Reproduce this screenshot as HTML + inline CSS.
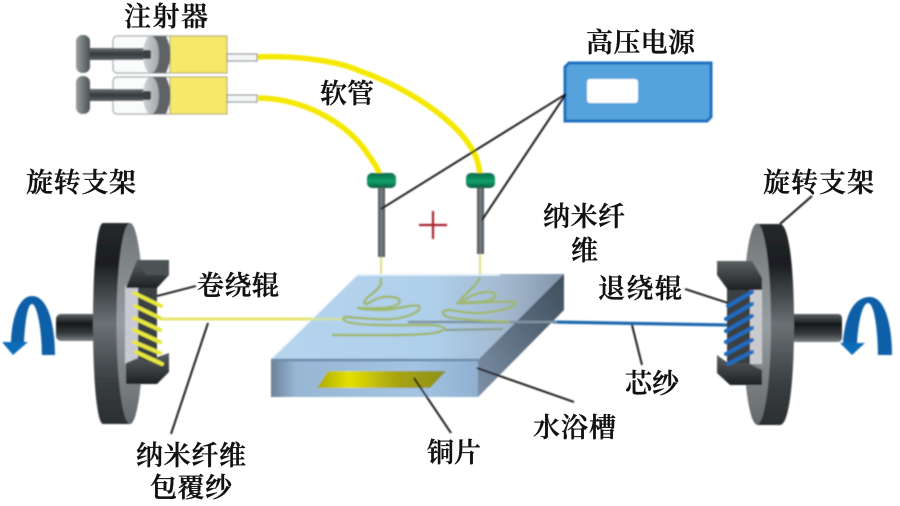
<!DOCTYPE html>
<html><head><meta charset="utf-8">
<style>
html,body{margin:0;padding:0;background:#fff;width:900px;height:506px;overflow:hidden}
svg{display:block}
text{font-family:"Liberation Serif","Noto Serif CJK SC",serif;font-size:27px;fill:#111;font-weight:600;stroke:#111;stroke-width:.35px}
</style></head>
<body>
<svg width="900" height="506" viewBox="0 0 900 506" xmlns="http://www.w3.org/2000/svg">
<defs>
<linearGradient id="rod" x1="0" y1="0" x2="0" y2="1"><stop offset="0" stop-color="#6b7375"/><stop offset=".5" stop-color="#33393b"/><stop offset="1" stop-color="#5d6567"/></linearGradient>
<linearGradient id="head" x1="0" y1="0" x2="1" y2="0"><stop offset="0" stop-color="#9aa0a2"/><stop offset="1" stop-color="#4a5153"/></linearGradient>
<linearGradient id="stop" x1="0" y1="0" x2="1" y2="0"><stop offset="0" stop-color="#d0d3d5"/><stop offset="1" stop-color="#a2a7aa"/></linearGradient>
<linearGradient id="green" x1="0" y1="0" x2="0" y2="1"><stop offset="0" stop-color="#0a6a48"/><stop offset=".55" stop-color="#12a06c"/><stop offset="1" stop-color="#0a5c40"/></linearGradient>
<linearGradient id="needle" x1="0" y1="0" x2="1" y2="0"><stop offset="0" stop-color="#4f5558"/><stop offset=".5" stop-color="#7a8084"/><stop offset="1" stop-color="#4a5053"/></linearGradient>
<linearGradient id="rimL" x1="0" y1="0" x2="0" y2="1"><stop offset="0" stop-color="#25292b"/><stop offset=".2" stop-color="#1a1d1f"/><stop offset=".5" stop-color="#6a7174"/><stop offset=".8" stop-color="#383d40"/><stop offset="1" stop-color="#2a2e30"/></linearGradient>
<linearGradient id="faceL" x1="0" y1="0" x2="0" y2="1"><stop offset="0" stop-color="#6f7477"/><stop offset=".5" stop-color="#989da0"/><stop offset="1" stop-color="#63686b"/></linearGradient>
<linearGradient id="shaft" x1="0" y1="0" x2="0" y2="1"><stop offset="0" stop-color="#5c6264"/><stop offset=".35" stop-color="#16191a"/><stop offset=".7" stop-color="#34393b"/><stop offset="1" stop-color="#7a8284"/></linearGradient>
<linearGradient id="brk" x1="0" y1="0" x2="0" y2="1"><stop offset="0" stop-color="#5a6062"/><stop offset="1" stop-color="#1d2022"/></linearGradient>
<linearGradient id="top" x1="0" y1="0" x2="1" y2="0"><stop offset="0" stop-color="#b6d4ee"/><stop offset=".55" stop-color="#aecfea"/><stop offset=".8" stop-color="#a3b8cf"/><stop offset="1" stop-color="#8294aa"/></linearGradient>
<linearGradient id="front" x1="0" y1="0" x2="1" y2="0"><stop offset="0" stop-color="#6b8199"/><stop offset=".12" stop-color="#96b6d4"/><stop offset=".7" stop-color="#a3c4e2"/><stop offset="1" stop-color="#8fb0d0"/></linearGradient>
<linearGradient id="side" x1="0" y1="1" x2="1" y2="0"><stop offset="0" stop-color="#7d90a6"/><stop offset=".6" stop-color="#566778"/><stop offset="1" stop-color="#3e4e5c"/></linearGradient>
<linearGradient id="cu" x1="0" y1="0" x2="1" y2="0"><stop offset="0" stop-color="#a8a800"/><stop offset=".25" stop-color="#e4e000"/><stop offset=".6" stop-color="#a9a510"/><stop offset="1" stop-color="#8d9018"/></linearGradient>
<g id="syr">
  <rect x="113" y="36" width="60" height="37" rx="4" fill="#fafbfb" stroke="#a4a9a9" stroke-width="1.200"/>
  <rect x="88" y="48" width="62" height="12" fill="url(#rod)"/>
  <rect x="76" y="35" width="14" height="38" rx="6.500" fill="url(#head)"/>
  <rect x="170" y="36" width="57" height="37" fill="#f6e868" stroke="#a8a878" stroke-width="1"/>
  <path d="M150 36H166Q175 54 166 73H150Z" fill="#5f6468"/>
  <ellipse cx="151" cy="54.500" rx="8" ry="18.500" fill="url(#stop)"/>
  <rect x="143" y="50" width="8" height="9" rx="2" fill="#3a4042"/>
  <rect x="227" y="54" width="30" height="7" fill="#f4f5f5" stroke="#777c7f" stroke-width="1"/>
</g>
<filter id="b" x="-5%" y="-5%" width="110%" height="110%"><feGaussianBlur stdDeviation="0.7"/></filter>
</defs>

<g filter="url(#b)">
<!-- tubes -->
<path d="M256 57C300 55 340 62 360 71C400 85 440 110 462 135C474 150 479 160 480 176" fill="none" stroke="#f5e800" stroke-width="5.500"/>
<path d="M258 98C285 98 310 107 327 117C345 127 358 140 365 150C374 163 378 168 380 176" fill="none" stroke="#f5e800" stroke-width="5.500"/>

<!-- syringes -->
<use href="#syr"/>
<use href="#syr" y="41"/>

<!-- needles -->
<rect x="378" y="186" width="7" height="71" fill="url(#needle)"/>
<rect x="477" y="186" width="7" height="68" fill="url(#needle)"/>
<rect x="367" y="173" width="29" height="15" rx="5" fill="url(#green)"/>
<rect x="466" y="173" width="29" height="15" rx="5" fill="url(#green)"/>

<!-- power box -->
<path d="M569 63H711V117L707 121H565V67Z" fill="#55a2dc" stroke="#1f6fc0" stroke-width="3"/>
<rect x="587" y="79" width="51" height="24" rx="3" fill="#fff"/>

<!-- plus -->
<path d="M419 225H447M433 211V239" stroke="#a8222c" stroke-width="2.200"/>

<!-- fibers from needle -->
<path d="M381 257V280" stroke="#d8dc70" stroke-width="1.800"/>
<path d="M480 254V277" stroke="#d8dc70" stroke-width="1.800"/>

<!-- left yarn -->
<path d="M160 319H350" stroke="#e6e66c" stroke-width="3"/>
<!-- right yarn -->
<path d="M553 322L727 325" stroke="#1e68ad" stroke-width="3.200"/>

<!-- bath -->
<path d="M357 274H564V310L478 397H271V360Z" fill="#a9c9e6"/>
<path d="M357 274H564L478 360H271Z" fill="url(#top)"/>
<path d="M271 360H478V397H271Z" fill="url(#front)"/>
<path d="M478 360L564 274V310L478 397Z" fill="url(#side)"/>
<path d="M271 360H478" stroke="#6f8aaa" stroke-width="2.500"/>
<path d="M272 358L357 275H500" fill="none" stroke="#eef6fc" stroke-width="1.400"/>
<path d="M317 388L328 371H446L430 388Z" fill="url(#cu)"/>

<!-- left yarn over bath (faint) -->
<path d="M300 319H345" stroke="#dfe67c" stroke-width="2.500" opacity=".7"/>

<!-- core yarn in bath -->
<path d="M408 322H557" stroke="#7f93a2" stroke-width="2.400"/>
<path d="M445 330L503 329" stroke="#8aa090" stroke-width="2.200"/>

<!-- fibre pattern -->
<g fill="none" stroke="#a0b86a" stroke-width="2.400" stroke-linejoin="round">
<path d="M381 278V284C378 291 369 295 366 299C362 304 365 306 372 301C380 296 390 296 397 298C403 301 398 306 390 307C378 309 365 308 358 308C372 311 385 310 393 309C405 307 415 304 419 306C422 311 412 315 400 318C385 321 365 318 345 317C341 319 345 322 352 323C370 326 400 325 427 325C437 325 446 327 444 329C442 332 435 333 425 334C400 336 360 335 332 335"/>
<path d="M480 277C478 283 470 290 464 296C458 302 458 305 466 299C475 293 488 290 494 293C500 298 488 302 477 302C468 303 460 303 457 303C475 304 500 300 516 302C518 306 505 310 490 312C475 315 458 311 450 310C442 310 440 314 448 317C460 320 490 321 510 322"/>
</g>

<!-- left wheel -->
<rect x="56" y="314" width="42" height="27" rx="5" fill="url(#shaft)"/>
<path d="M103 223H130V424H103C97 424 93 380 93 323C93 267 97 223 103 223Z" fill="url(#rimL)"/>
<ellipse cx="130" cy="323.500" rx="13.500" ry="100.500" fill="url(#faceL)"/>
<rect x="125" y="286" width="18" height="78" fill="#c8c9d2"/>
<rect x="138" y="284" width="19" height="80" fill="#3a4042"/>
<path d="M126 288L137 260H169V275L157 288Z" fill="url(#brk)"/>
<path d="M137 260H169V275H146Z" fill="#4c5254"/>
<path d="M126 363L138 358L146 361L169 353V372L157 384H126Z" fill="url(#brk)"/>
<g fill="none" stroke="#e6e83c" stroke-width="4" stroke-linecap="round">
<path d="M134 293L161 306M135 306L160 318M134 318L160 330M134 330L160 342M134 342L160 353M136 352L162 364"/>
</g>
<path d="M157 296H158" stroke="#000"/>

<!-- left arrow -->
<path d="M42 355H55C55 325 48 296 32 296C20 296 12 315 11 342H24C25 325 27 304 32 304C37 304 42 330 42 355Z" fill="#0a5fa8"/>
<path d="M2 342H28L13 355Z" fill="#0a6cb8"/>

<!-- right wheel -->
<rect x="790" y="314" width="52" height="28" rx="4" fill="url(#shaft)"/>
<path d="M757 224H780C789 224 794 268 794 324C794 382 789 425 780 425H757Z" fill="url(#rimL)"/>
<ellipse cx="757" cy="324" rx="14" ry="100.500" fill="url(#faceL)"/>
<rect x="745" y="288" width="17" height="76" fill="#c8cad0"/>
<rect x="727" y="288" width="23" height="76" fill="#3a4042"/>
<path d="M717 261H752L762 278V290H728L717 275Z" fill="url(#brk)"/>
<path d="M717 355L728 363H748L762 370V385H730L717 373Z" fill="url(#brk)"/>
<g fill="none" stroke="#1f6cc0" stroke-width="4" stroke-linecap="round">
<path d="M728 306L752 292M726 319L752 304M726 331L752 316M726 342L752 328M726 354L752 340M728 364L752 352"/>
</g>

<!-- right arrow -->
<path d="M892 355H878C878 335 875 303 868 303C862 303 858 325 857 343H843C845 318 852 297 870 297C885 297 892 325 892 355Z" fill="#0a5fa8"/>
<path d="M840 343H865L852 355Z" fill="#0a6cb8"/>

<!-- leader lines -->
<g stroke="#0a0a0a" stroke-width="1.900" fill="none">
<path d="M566 94L381 209"/>
<path d="M566 94L482 220"/>
<path d="M157 296L196 286"/>
<path d="M208 323L171 434"/>
<path d="M414 378L451 433"/>
<path d="M477 368L574 402"/>
<path d="M780 224L812 196"/>
<path d="M685 289L728 303"/>
<path d="M632 325L642 365"/>
</g>
</g>

<text x="124" y="26" textLength="84">注射器</text>
<text x="586" y="52" textLength="109">高压电源</text>
<text x="320" y="103" textLength="54">软管</text>
<text x="26" y="192" textLength="110">旋转支架</text>
<text x="763" y="192" textLength="111">旋转支架</text>
<text x="543" y="226" textLength="82">纳米纤</text>
<text x="571" y="260">维</text>
<text x="197" y="295" textLength="82">卷绕辊</text>
<text x="598" y="298" textLength="84">退绕辊</text>
<text x="625" y="393" textLength="54">芯纱</text>
<text x="533" y="437" textLength="83">水浴槽</text>
<text x="427" y="462" textLength="54">铜片</text>
<text x="136" y="465" textLength="110">纳米纤维</text>
<text x="150" y="497" textLength="82">包覆纱</text>
</svg>
</body></html>
